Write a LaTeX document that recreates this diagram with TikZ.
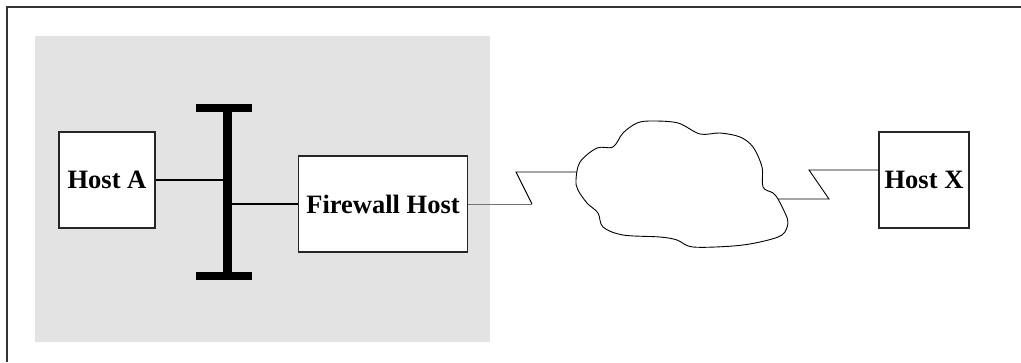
\documentclass[tikz,border=0pt]{standalone}
\usepackage{fontspec}
\setmainfont{Liberation Serif}
\usetikzlibrary{calc}
\begin{document}
\begin{tikzpicture}[x=1pt,y=-1pt,
  hostbox/.style={draw=black!85, line width=1.2pt, fill=white, inner sep=0pt,
    font=\fontsize{26.5}{30}\selectfont\bfseries},
  wire/.style={line width=0.9pt},
  lan/.style={line width=2pt},
  frame/.style={line width=2pt, draw=black!80}]
\useasboundingbox (0,0) rectangle (1021,362);
% frame
\coordinate (fTR) at (1021,7);
\coordinate (fTL) at (7,7);
\coordinate (fBL) at (7,362);
\draw[frame] (fTR) -- (fTL) -- (fBL);
% protected zone
\fill[black!11] (35,36) rectangle (490,342);
% hosts
\node[hostbox, minimum width=96pt, minimum height=96pt] (hostA) at (107,180) {Host A};
\node[hostbox, minimum width=169pt, minimum height=96pt] (fw) at (383,204) {Firewall Host};
\node[hostbox, minimum width=90pt, minimum height=96pt] (hostX) at (924,180) {Host X};
% LAN bus
\coordinate (busT) at (227,104);
\coordinate (busB) at (227,280);
\coordinate (capTL) at (196,108);
\coordinate (capTR) at (252,108);
\coordinate (capBL) at (196,276);
\coordinate (capBR) at (252,276);
\draw[line width=9pt] (busT) -- (busB);
\draw[line width=8pt] (capTL) -- (capTR);
\draw[line width=8pt] (capBL) -- (capBR);
\draw[lan] (hostA.east) -- (busT |- hostA.east);
\draw[lan] (fw.west) -- (busT |- fw.west);
% cloud
\draw[line width=0.9pt, fill=white] plot[smooth cycle, tension=0.55] coordinates{
 (576,180) (580,162) (597,148) (613,147) (623,133) (637,123) (652,121)
 (678,123) (700,134) (720,133) (740,137) (753,147) (762,167) (763,187)
 (773,193) (778,199) (785,213) (788,223) (782,235) (760,242) (733,246)
 (693,247) (677,240) (660,237) (623,235) (603,227) (598,213) (587,203)
 (578,190)};
\coordinate (cloudL) at (577,172);
\coordinate (cloudR) at (778,199);
% WAN links
\coordinate (z1) at (532,204);
\coordinate (z2) at (516,172);
\coordinate (z3) at (829,199);
\coordinate (z4) at (809,170);
\draw[wire, black!55] (fw.east) -- (z1);
\draw[wire] (z1) -- (z2) -- (cloudL);
\draw[wire] (cloudR) -- (z3) -- (z4) -- (hostX.west |- z4);
\end{tikzpicture}
\end{document}
